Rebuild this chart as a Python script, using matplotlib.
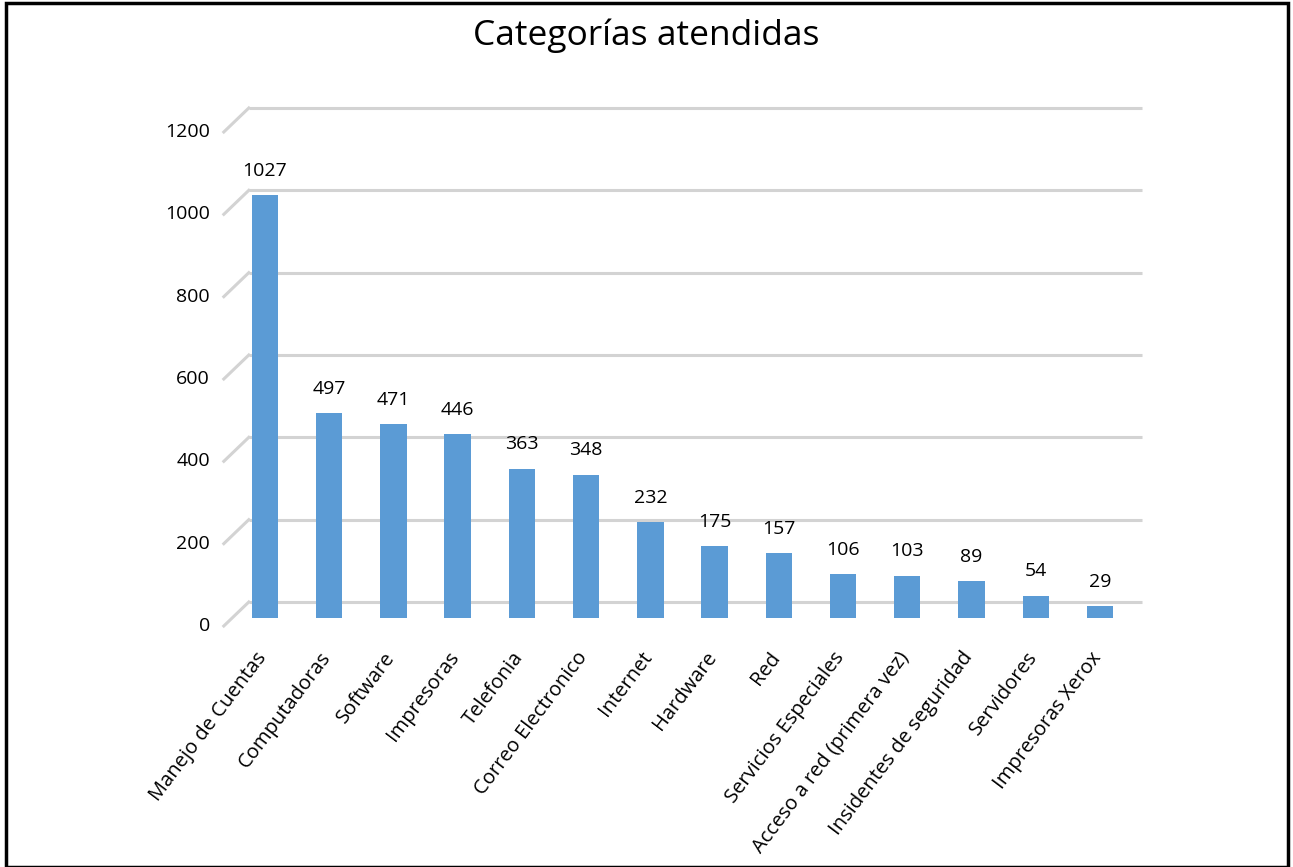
import matplotlib
matplotlib.use('Agg')
import matplotlib.pyplot as plt
import matplotlib.transforms as mtransforms
from matplotlib.patches import Rectangle

categorias = ['Manejo de Cuentas', 'Computadoras', 'Software', 'Impresoras',
              'Telefonia', 'Correo Electronico', 'Internet', 'Hardware', 'Red',
              'Servicios Especiales', 'Acceso a red (primera vez)',
              'Insidentes de seguridad', 'Servidores', 'Impresoras Xerox']
valores = [1027, 497, 471, 446, 363, 348, 232, 175, 157, 106, 103, 89, 54, 29]
ticks_y = [0, 200, 400, 600, 800, 1000, 1200]

plt.rcParams['font.family'] = ['Open Sans', 'DejaVu Sans']

W, H = 1293, 867
fig = plt.figure(figsize=(W / 100, H / 100), dpi=100)

# plot area in pixels (bar plane)
x0, x1 = 232.8, 1132.1
y_top, y_bot = 124, 618
ax = fig.add_axes([x0 / W, (H - y_bot) / H, (x1 - x0) / W, (y_bot - y_top) / H])
ax.set_xlim(-0.5, len(valores) - 0.5)
ax.set_ylim(0, 1200)
ax.axis('off')

def px(dx, dy):
    return mtransforms.ScaledTranslation(dx / 100, dy / 100, fig.dpi_scale_trans)

grid_color = '#d3d3d3'
# back wall gridlines + floor diagonal (fake 3D look)
for v in ticks_y:
    ax.plot([-0.5, len(valores) - 0.6], [v, v], color=grid_color, lw=2.2,
            transform=ax.transData + px(16, 16), zorder=1,
            solid_capstyle='butt', clip_on=False)
    bx, by = ax.transData.transform((-0.5, v))
    ax.plot([bx - 9, bx + 16], [by - 8, by + 16], color=grid_color, lw=2.2,
            transform=mtransforms.IdentityTransform(), zorder=1, clip_on=False)
    ax.text(-0.5, v, str(v), ha='right', va='center', fontsize=14,
            transform=ax.transData + px(-23, -8))

x = range(len(valores))
bars = ax.bar(x, valores, width=0.41, color='#5B9BD5', zorder=2)
ax.bar_label(bars, padding=11, fontsize=14)

for i, c in enumerate(categorias):
    ax.text(i, 0, c, rotation=53, rotation_mode='anchor', ha='right', va='top',
            fontsize=14.5, transform=ax.transData + px(-10, -30))

fig.text(0.5, 1 - 36 / H, 'Categorías atendidas', ha='center', va='center',
         fontsize=25.5)

fig.patches.append(Rectangle((6 / W, 0.5 / H), (1288 - 6) / W, (H - 3.5) / H,
                             transform=fig.transFigure, fill=False,
                             edgecolor='black', lw=2.5))

fig.savefig('out.png', dpi=100)
